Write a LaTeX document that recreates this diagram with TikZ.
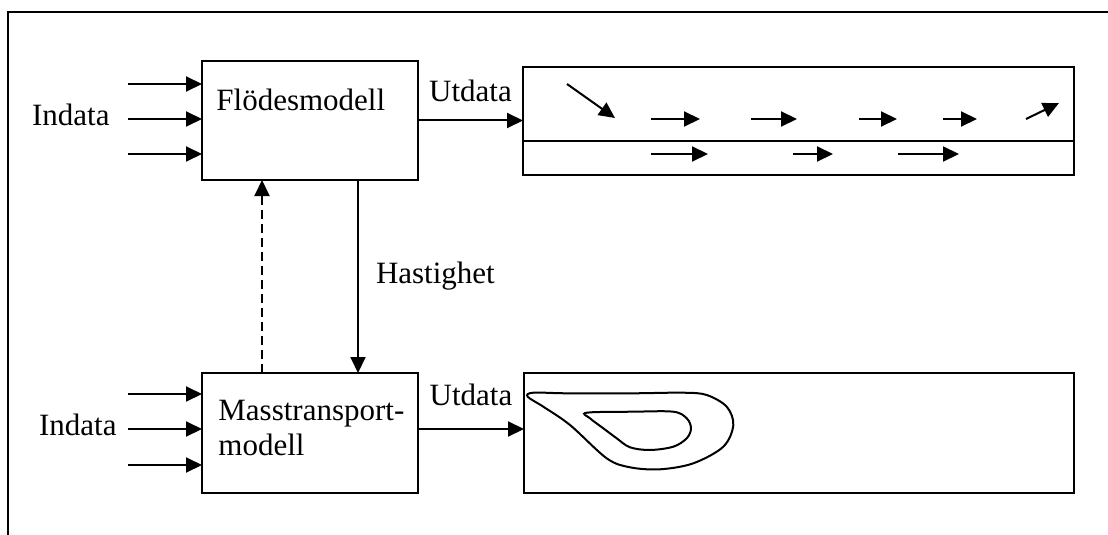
\documentclass[tikz,border=0pt]{standalone}
\usepackage{fontspec}
\setmainfont{Liberation Serif}
\usetikzlibrary{positioning,arrows.meta}

\begin{document}
\begin{tikzpicture}[x=0.5pt, y=-0.5pt,
  font=\fontsize{15.5}{17.5}\selectfont,
  box/.style={draw, line width=1.1pt, inner sep=0pt, outer sep=0pt},
  lbl/.style={inner sep=0pt},
  arr/.style={-{Triangle[length=8pt, width=7.5pt]}, line width=1pt},
  curve/.style={line width=1pt}]
\useasboundingbox (0,0) rectangle (1108,535);
% frame
\draw[line width=1.2pt] (1108,12) -- (8,12) -- (8,535);
% models
\node[box, minimum width=108pt, minimum height=59.5pt] (flow) at (310,120.5) {};
\node[box, minimum width=108pt, minimum height=60pt] (mass) at (310,433) {};
\node[lbl, anchor=base west] (flowtxt) at (216,111) {Flödesmodell};
\node[lbl, anchor=base west, align=left] (masstxt) at (218,455) {Masstransport-\\modell};
% inputs
\coordinate (fin1) at (128,84);
\coordinate (fin2) at (128,119);
\coordinate (fin3) at (128,154);
\coordinate (min1) at (128,394);
\coordinate (min2) at (128,429);
\coordinate (min3) at (128,465);
\node[lbl, anchor=base east] (findata) at (110,126) {Indata};
\node[lbl, anchor=base east] (mindata) at (117,435) {Indata};
\foreach \c in {fin1,fin2,fin3}
  \draw[arr] (\c) -- (\c -| flow.west);
\foreach \c in {min1,min2,min3}
  \draw[arr] (\c) -- (\c -| mass.west);
% coupling
\coordinate (hx) at (358,0);
\coordinate (dx) at (262,0);
\draw[arr] (hx |- flow.south) -- (hx |- mass.north) node[midway, right=8.5pt, lbl] (hast) {Hastighet};
\draw[arr, dash pattern=on 4.5pt off 2.5pt] (dx |- mass.north) -- (dx |- flow.south);
% outputs
\node[box, minimum width=275.5pt, minimum height=54pt] (flowout) at (798.5,121) {};
\node[box, minimum width=275pt, minimum height=60pt] (massout) at (799,433) {};
\coordinate (div) at (0,141);
\draw[line width=1.1pt] (flowout.west |- div) -- (flowout.east |- div);
\draw[arr] (flow.east) -- (flow.east -| flowout.west) node[midway, above=8.8pt, lbl] (futd) {Utdata};
\draw[arr] (min2 -| mass.east) -- (min2 -| massout.west) node[midway, above=11.3pt, lbl] (mutd) {Utdata};
% velocity field
\draw[arr] (567,84) -- (615,118);
\draw[arr] (651,119) -- (700,119);
\draw[arr] (751,119) -- (797,119);
\draw[arr] (859,119) -- (897,119);
\draw[arr] (943,119) -- (977,119);
\draw[arr] (1026,119) -- (1059,103);
\draw[arr] (651,154) -- (708,154);
\draw[arr] (793,154) -- (833,154);
\draw[arr] (898,154) -- (959,154);
% concentration contours
\draw[curve] plot[smooth cycle, tension=0.55] coordinates {(527.7,396.7) (543.3,406.7) (570,425) (606.7,458.3) (630,467.3) (660,469.3) (693.3,463.3) (723.3,446.7) (733.3,425) (726.7,406.7) (706.7,395) (683.3,392.7) (633.3,393.3) (566.7,393.3) (533.3,392.7)};
\draw[curve] plot[smooth cycle, tension=0.55] coordinates {(586.7,412.7) (633.3,411.7) (673.3,411.7) (686.7,418.3) (691,428.3) (686.7,438.3) (673.3,446.7) (650,450) (630,447.3) (616.7,438.3) (603.3,428.3) (590,418.3)};
\end{tikzpicture}
\end{document}
